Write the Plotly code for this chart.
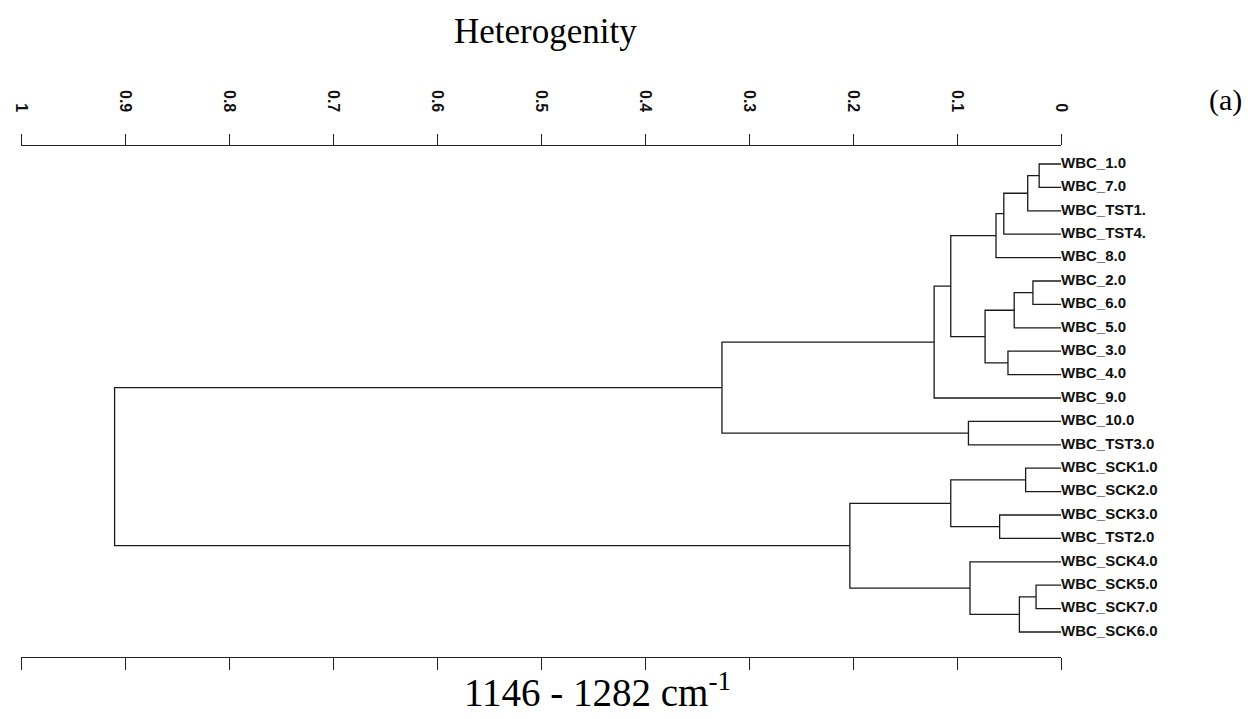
import plotly.graph_objects as go

# ---------------- data ----------------
leaves = ["WBC_1.0", "WBC_7.0", "WBC_TST1.", "WBC_TST4.", "WBC_8.0",
          "WBC_2.0", "WBC_6.0", "WBC_5.0", "WBC_3.0", "WBC_4.0",
          "WBC_9.0", "WBC_10.0", "WBC_TST3.0", "WBC_SCK1.0", "WBC_SCK2.0",
          "WBC_SCK3.0", "WBC_TST2.0", "WBC_SCK4.0", "WBC_SCK5.0",
          "WBC_SCK7.0", "WBC_SCK6.0"]

# merges: node ids < 21 are leaves, node 21+k is merge k
merge_left = [0, 21, 22, 23, 5, 25, 8, 26, 24, 29, 11, 30, 13, 15, 33, 18, 36, 17, 35, 32]
merge_right = [1, 2, 3, 4, 6, 7, 9, 27, 28, 10, 12, 31, 14, 16, 34, 19, 20, 37, 38, 39]
merge_height = [0.021, 0.032, 0.055, 0.0625, 0.027, 0.045, 0.051, 0.073, 0.106, 0.122,
                0.089, 0.326, 0.034, 0.059, 0.106, 0.024, 0.040, 0.0875, 0.203, 0.91]

tick_vals = [1.0, 0.9, 0.8, 0.7, 0.6, 0.5, 0.4, 0.3, 0.2, 0.1, 0.0]
tick_text = ["1", "0.9", "0.8", "0.7", "0.6", "0.5", "0.4", "0.3", "0.2", "0.1", "0"]

title_top = "Heterogenity"
title_bottom = "1146 - 1282 cm<sup>-1</sup>"
panel_tag = "(a)"

# ---------------- build dendrogram geometry ----------------
n = len(leaves)
node_y = {i: i for i in range(n)}
node_h = {i: 0.0 for i in range(n)}
xs, ys = [], []
for k, (a, b, h) in enumerate(zip(merge_left, merge_right, merge_height)):
    ya, yb = node_y[a], node_y[b]
    ha, hb = node_h[a], node_h[b]
    xs += [ha, h, h, hb, None]
    ys += [ya, ya, yb, yb, None]
    node_y[n + k] = (ya + yb) / 2.0
    node_h[n + k] = h

# ---------------- layout geometry (window pixels) ----------------
OFF = 8                      # default page body margin
W, H = 1259 - OFF, 719 - OFF
L, R = 21, 1061              # window x of value 1 and value 0
T, B = 146, 657              # window y of top and bottom axis lines
pw, ph = R - L, B - T


def px(xw):
    return (xw - L) / pw


def py(yw):
    return (B - yw) / ph


first_leaf_px, last_leaf_px = 164, 632
step = (last_leaf_px - first_leaf_px) / (n - 1)
y_top = -(first_leaf_px - T) / step
y_bot = (n - 1) + (B - last_leaf_px) / step

fig = go.Figure()
fig.add_trace(go.Scatter(x=xs, y=ys, mode="lines",
                         line=dict(color="#1a1a1a", width=1.3),
                         hoverinfo="skip", showlegend=False, xaxis="x", yaxis="y"))
fig.add_trace(go.Scatter(x=[0.0] * n, y=list(range(n)), mode="text", text=leaves,
                         textposition="middle right",
                         textfont=dict(family="Liberation Sans, Arial", size=15,
                                       color="#111", weight="bold"),
                         cliponaxis=False, hoverinfo="skip", showlegend=False,
                         xaxis="x2", yaxis="y"))

fig.update_layout(
    width=W, height=H,
    margin=dict(l=L - OFF, r=(W + OFF) - R, t=T - OFF, b=(H + OFF) - B, autoexpand=False),
    paper_bgcolor="white", plot_bgcolor="white",
    xaxis=dict(range=[1.0, 0.0], tickvals=tick_vals, showticklabels=False,
               ticks="outside", ticklen=12, tickwidth=1.2, tickcolor="#222",
               showline=True, linecolor="#222", linewidth=1.3,
               showgrid=False, zeroline=False, fixedrange=True),
    xaxis2=dict(range=[1.0, 0.0], overlaying="x", side="top", anchor="y",
                tickvals=tick_vals, ticktext=tick_text, tickangle=90,
                ticks="outside", ticklen=11, tickwidth=1.2, tickcolor="#222",
                ticklabelstandoff=16,
                tickfont=dict(family="Liberation Sans, Arial", size=16,
                              color="#111", weight="bold"),
                showline=True, linecolor="#222", linewidth=1.3,
                showgrid=False, zeroline=False, fixedrange=True),
    yaxis=dict(range=[y_bot, y_top], visible=False, showgrid=False,
               zeroline=False, fixedrange=True),
    font=dict(family="Liberation Serif, Times New Roman", color="black"),
    annotations=[
        dict(text=title_top, x=px(545), y=py(32), xref="paper", yref="paper",
             xanchor="center", yanchor="middle", showarrow=False,
             font=dict(size=35, family="Liberation Serif")),
        dict(text=panel_tag, x=px(1225), y=py(100), xref="paper", yref="paper",
             xanchor="center", yanchor="middle", showarrow=False,
             font=dict(size=30, family="Liberation Serif")),
        dict(text=title_bottom, x=px(597), y=py(690), xref="paper", yref="paper",
             xanchor="center", yanchor="middle", showarrow=False,
             font=dict(size=39, family="Liberation Serif")),
    ],
)

fig.write_html("out.html")
